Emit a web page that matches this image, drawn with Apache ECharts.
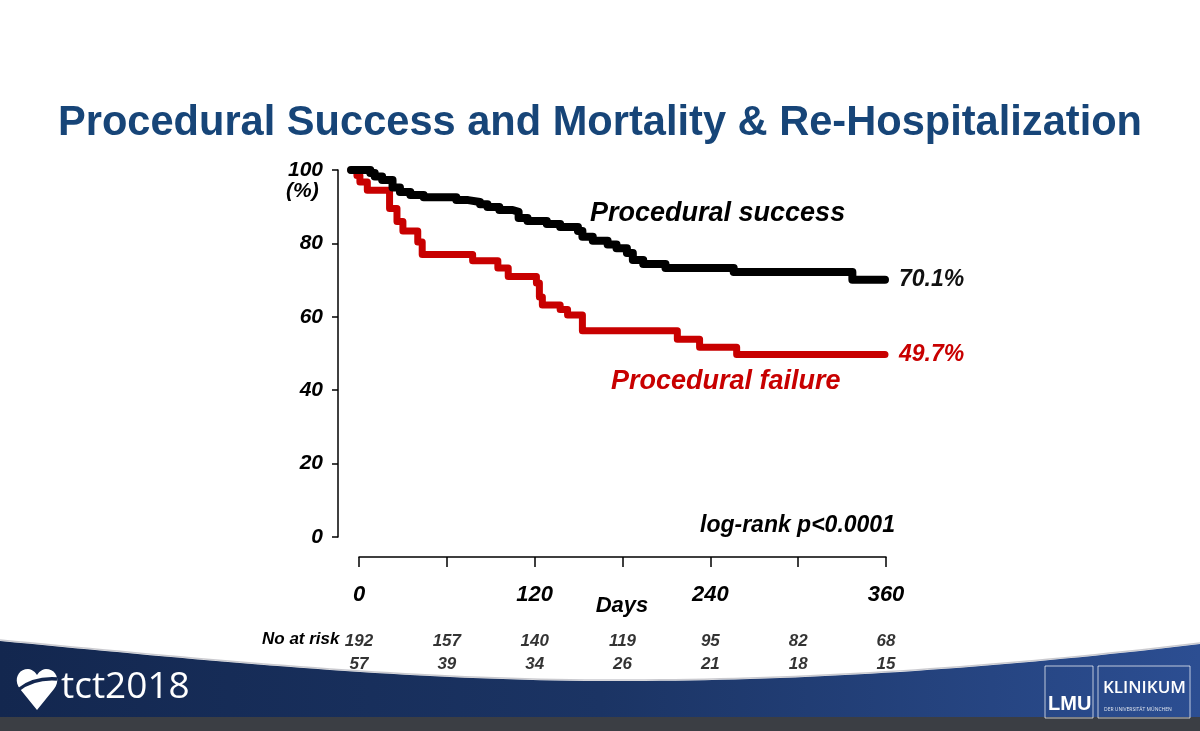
<!DOCTYPE html>
<html>
<head>
<meta charset="utf-8">
<script src="https://cdn.jsdelivr.net/npm/echarts@6/dist/echarts.min.js"></script>
<style>
  html, body { margin: 0; padding: 0; background: #ffffff; }
  #chart { width: 1200px; height: 731px; }
</style>
</head>
<body>
<div id="chart"></div>
<script>
// ---- Data ----
const titleText = 'Procedural Success and Mortality & Re-Hospitalization';
const yTicks = [0, 20, 40, 60, 80, 100];
const xTickDays = [0, 60, 120, 180, 240, 300, 360];
const xLabelDays = [0, 120, 240, 360];
const xAxisTitle = 'Days';

// Kaplan-Meier: Procedural success (black)
const successDays = [0, 13, 16, 21, 28, 33, 40, 49, 71, 79, 87, 92, 100, 109, 113, 119, 132, 141, 153, 156, 163, 173, 179, 186, 190, 197, 212, 258, 338, 360];
const successSurv = [100, 99.2, 98.2, 97.3, 95.2, 94.0, 93.2, 92.6, 91.8, 91.3, 90.7, 89.9, 89.1, 88.6, 86.9, 86.1, 85.3, 84.5, 83.4, 81.8, 80.7, 79.7, 78.7, 77.4, 75.5, 74.4, 73.3, 72.2, 70.1, 70.1];

// Kaplan-Meier: Procedural failure (red)
const failureDays = [0, 4, 6, 11, 26, 31, 35, 45, 48, 82, 99, 106, 125, 127, 129, 141, 146, 156, 220, 235, 260, 360];
const failureSurv = [100, 98.5, 96.7, 94.5, 89.5, 86.0, 83.4, 80.4, 77.0, 75.3, 73.3, 71.0, 69.2, 65.4, 63.2, 62.0, 60.5, 56.2, 53.9, 51.7, 49.7, 49.7];

const finalSuccessLabel = '70.1%';
const finalFailureLabel = '49.7%';

// Numbers at risk
const riskDays = [0, 60, 120, 180, 240, 300, 360];
const riskSuccess = [192, 157, 140, 119, 95, 82, 68];
const riskFailure = [57, 39, 34, 26, 21, 18, 15];

// ---- Build chart ----
const FONT = "'Liberation Sans', Arial, sans-serif";
const successData = successDays.map((d, i) => [d, successSurv[i]]);
const failureData = failureDays.map((d, i) => [d, failureSurv[i]]);
const riskData = [];
riskDays.forEach((d, i) => {
  riskData.push([d, 'success', riskSuccess[i]]);
  riskData.push([d, 'failure', riskFailure[i]]);
});

// sample cubic bezier segments into polygon points (decoration only)
function bez(p0, p1, p2, p3, n) {
  const pts = [];
  for (let i = 0; i <= n; i++) {
    const t = i / n, u = 1 - t;
    pts.push([
      u*u*u*p0[0] + 3*u*u*t*p1[0] + 3*u*t*t*p2[0] + t*t*t*p3[0],
      u*u*u*p0[1] + 3*u*u*t*p1[1] + 3*u*t*t*p2[1] + t*t*t*p3[1]
    ]);
  }
  return pts;
}
const edge = bez([0, 641], [200, 660], [400, 680], [600, 681], 40)
  .concat(bez([600, 681], [800, 682], [1000, 668], [1200, 644], 40).slice(1));
const footerPts = edge.concat([[1200, 731], [0, 731]]);
const edgeLine = edge.map(p => [p[0], p[1] - 1]);

// heart logo outline
const heart = [[37, 710], [20, 689]]
  .concat(bez([20, 689], [13, 680], [18, 669], [28, 669], 10).slice(1))
  .concat(bez([28, 669], [32, 669], [35, 672], [37, 675], 6).slice(1))
  .concat(bez([37, 675], [39, 672], [42, 669], [46, 669], 6).slice(1))
  .concat(bez([46, 669], [56, 669], [61, 680], [54, 689], 10).slice(1));

const chart = echarts.init(document.getElementById('chart'), null, { renderer: 'canvas' });

const labelFont = { fontFamily: FONT, fontWeight: 'bold', fontStyle: 'italic', color: '#000' };

const option = {
  backgroundColor: '#ffffff',
  animation: false,
  title: {
    text: titleText,
    left: 'center',
    top: 98,
    textStyle: { fontFamily: FONT, fontSize: 41.6, fontWeight: 'bold', color: '#174578' }
  },
  grid: [
    { left: 351, right: 315, top: 170, height: 367 },   // curves
    { left: 359, right: 314, top: 545, height: 12 },    // x axis (Days)
    { left: 359, right: 314, top: 630, height: 46 },    // numbers at risk
    { left: 338, right: 315, top: 170, height: 367 }    // y axis
  ],
  xAxis: [
    { gridIndex: 0, type: 'value', min: 0, max: 360, show: false },
    {
      gridIndex: 1, type: 'value', min: 0, max: 360, interval: 60,
      axisLine: { show: true, lineStyle: { color: '#000', width: 1.5 } },
      axisTick: { show: true, length: 10, lineStyle: { color: '#000', width: 1.5 } },
      splitLine: { show: false },
      axisLabel: Object.assign({
        margin: 27, fontSize: 22,
        formatter: v => (xLabelDays.indexOf(v) >= 0 ? String(v) : '')
      }, labelFont)
    },
    { gridIndex: 2, type: 'value', min: 0, max: 360, show: false },
    { gridIndex: 3, type: 'value', min: 0, max: 360, show: false }
  ],
  yAxis: [
    { gridIndex: 0, type: 'value', min: 0, max: 100, interval: 20, show: false },
    { gridIndex: 1, type: 'value', min: 0, max: 1, show: false },
    { gridIndex: 2, type: 'category', data: ['success', 'failure'], inverse: true, show: false },
    {
      gridIndex: 3, type: 'value', min: 0, max: 100, interval: 20,
      axisLine: { show: true, lineStyle: { color: '#000', width: 1.5 } },
      axisTick: { show: true, length: 6, lineStyle: { color: '#000', width: 1.5 } },
      splitLine: { show: false },
      axisLabel: Object.assign({ margin: 15, fontSize: 21 }, labelFont)
    }
  ],
  series: [
    {
      name: 'Procedural failure',
      type: 'line', xAxisIndex: 0, yAxisIndex: 0,
      step: 'end', symbol: 'none',
      data: failureData,
      lineStyle: { color: '#c80000', width: 7, cap: 'round', join: 'round' },
      endLabel: {
        show: true, distance: 14,
        formatter: () => finalFailureLabel,
        fontFamily: FONT, fontSize: 23, fontWeight: 'bold', fontStyle: 'italic', color: '#c80000'
      },
      z: 3
    },
    {
      name: 'Procedural success',
      type: 'line', xAxisIndex: 0, yAxisIndex: 0,
      step: 'end', symbol: 'none',
      data: successData,
      lineStyle: { color: '#000000', width: 8, cap: 'round', join: 'round' },
      endLabel: {
        show: true, distance: 14,
        formatter: () => finalSuccessLabel,
        fontFamily: FONT, fontSize: 23, fontWeight: 'bold', fontStyle: 'italic', color: '#111'
      },
      z: 4
    },
    {
      name: 'At risk',
      type: 'scatter', xAxisIndex: 2, yAxisIndex: 2,
      symbolSize: 1,
      itemStyle: { color: 'rgba(0,0,0,0)' },
      data: riskData,
      label: Object.assign({
        show: true, position: 'inside',
        formatter: p => String(p.value[2]),
        fontSize: 17
      }, labelFont),
      silent: true,
      z: 5
    }
  ],
  graphic: [
    // footer band
    {
      type: 'polygon', z: 0, silent: true,
      shape: { points: footerPts },
      style: {
        fill: {
          type: 'linear', x: 0, y: 0, x2: 1, y2: 0,
          colorStops: [
            { offset: 0, color: '#13274f' },
            { offset: 0.5, color: '#1b3464' },
            { offset: 1, color: '#2c4e92' }
          ]
        }
      }
    },
    {
      type: 'polyline', z: 0, silent: true,
      shape: { points: edgeLine },
      style: { fill: null, stroke: 'rgba(150,150,160,0.5)', lineWidth: 1.5 }
    },
    { type: 'rect', z: 1, silent: true, shape: { x: 0, y: 717, width: 1200, height: 14 }, style: { fill: '#3b3e44' } },
    // tct heart logo
    { type: 'polygon', z: 2, silent: true, shape: { points: heart }, style: { fill: '#ffffff' } },
    {
      type: 'bezierCurve', z: 3, silent: true,
      shape: { x1: 18, y1: 690, cpx1: 28, cpy1: 682, cpx2: 42, cpy2: 678, x2: 57, y2: 679 },
      style: { fill: null, stroke: '#13274f', lineWidth: 3.5 }
    },
    {
      type: 'text', z: 2, silent: true, left: 61, top: 669,
      style: { text: 'tct2018', font: "37px 'Open Sans', sans-serif", fill: '#ffffff' }
    },
    // LMU logo
    { type: 'rect', z: 2, silent: true, shape: { x: 1045, y: 666, width: 48, height: 52 }, style: { fill: null, stroke: 'rgba(255,255,255,0.7)', lineWidth: 1 } },
    { type: 'rect', z: 2, silent: true, shape: { x: 1098, y: 666, width: 92, height: 52 }, style: { fill: null, stroke: 'rgba(255,255,255,0.7)', lineWidth: 1 } },
    {
      type: 'text', z: 2, silent: true, left: 1048, top: 694,
      style: { text: 'LMU', font: "bold 20px 'Liberation Sans', Arial, sans-serif", fill: '#ffffff' }
    },
    {
      type: 'text', z: 2, silent: true, left: 1103, top: 680,
      style: { text: 'KLINIKUM', font: "600 17px 'Open Sans', sans-serif", fill: '#ffffff' }
    },
    {
      type: 'text', z: 2, silent: true, left: 1104, top: 707,
      style: { text: 'DER UNIVERSITÄT MÜNCHEN', font: "5px 'Open Sans', sans-serif", fill: '#dfe4ee' }
    },
    // chart annotations
    {
      type: 'text', z: 10, silent: true, x: 622, y: 606,
      style: { text: xAxisTitle, font: "italic bold 22px " + FONT, fill: '#000', textAlign: 'center', textVerticalAlign: 'middle' }
    },
    {
      type: 'text', z: 10, silent: true, left: 286, top: 181,
      style: { text: '(%)', font: "italic bold 21px " + FONT, fill: '#000' }
    },
    {
      type: 'text', z: 10, silent: true, left: 590, top: 200,
      style: { text: 'Procedural success', font: "italic bold 27px " + FONT, fill: '#000' }
    },
    {
      type: 'text', z: 10, silent: true, left: 611, top: 368,
      style: { text: 'Procedural failure', font: "italic bold 27px " + FONT, fill: '#c80000' }
    },
    {
      type: 'text', z: 10, silent: true, left: 700, top: 514,
      style: { text: 'log-rank p<0.0001', font: "italic bold 23px " + FONT, fill: '#000' }
    },
    {
      type: 'text', z: 10, silent: true, left: 262, top: 631,
      style: { text: 'No at risk', font: "italic bold 17px " + FONT, fill: '#000' }
    }
  ]
};

chart.setOption(option);
</script>
</body>
</html>
